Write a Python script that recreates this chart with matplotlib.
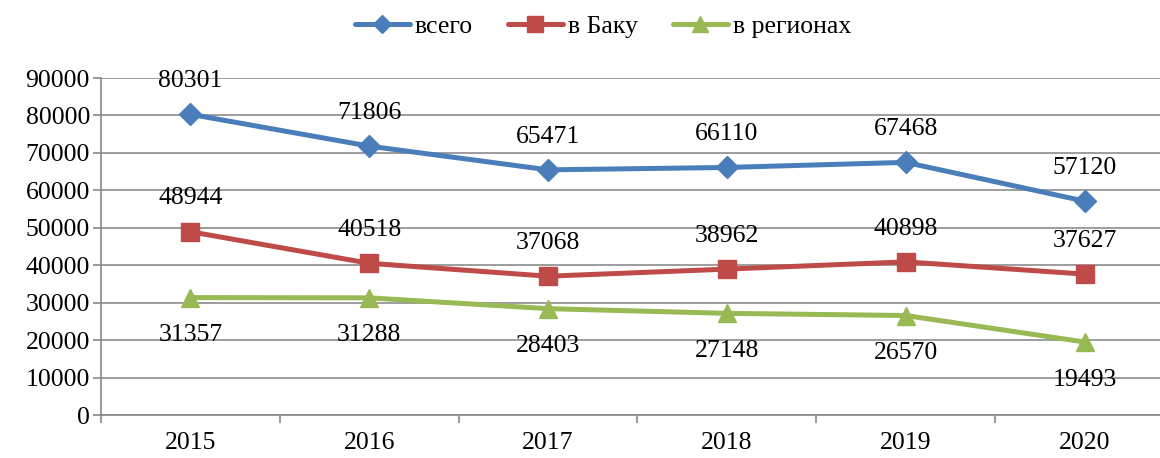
import matplotlib.pyplot as plt

plt.rcParams['font.family'] = ['Liberation Serif', 'DejaVu Serif']

years = ['2015', '2016', '2017', '2018', '2019', '2020']
total = [80301, 71806, 65471, 66110, 67468, 57120]
baku = [48944, 40518, 37068, 38962, 40898, 37627]
regions = [31357, 31288, 28403, 27148, 26570, 19493]

fs = 18.5
fig = plt.figure(figsize=(11.6, 4.58), dpi=100)
# plot area runs a little past the right edge of the figure
ax = fig.add_axes([101 / 1160, 43 / 458, 1073 / 1160, 337 / 458])

x = range(len(years))
series = [
    (total, 'всего', '#4A7EBB', 'D', 11, 24),
    (baku, 'в Баку', '#BE4B48', 's', 13, 24),
    (regions, 'в регионах', '#98B954', '^', 13, -27),
]
for vals, name, col, mk, ms, dy in series:
    ax.plot(x, vals, color=col, lw=3.6, marker=mk, markersize=ms,
            label=name, solid_capstyle='round')
    for i, v in enumerate(vals):
        ax.annotate(str(v), (i, v), xytext=(0, dy), textcoords='offset points',
                    ha='center', va='center', fontsize=fs)

ax.set_xlim(-0.5, len(years) - 0.5)
ax.set_ylim(0, 90000)
ax.set_yticks(range(0, 90001, 10000))
ax.set_xticks(list(x))
ax.set_xticklabels(years)
ax.set_xticks([i + 0.5 for i in range(-1, len(years))], minor=True)
ax.tick_params(axis='x', which='major', length=0, pad=12, labelsize=fs)
ax.tick_params(axis='x', which='minor', length=6, color='#888888', width=1.2)
ax.tick_params(axis='y', length=6, color='#888888', width=1.2, labelsize=fs, pad=2)
ax.grid(axis='y', color='#8c8c8c', lw=1.2)
ax.set_axisbelow(True)
for s in ['top', 'right']:
    ax.spines[s].set_visible(False)
for s in ['left', 'bottom']:
    ax.spines[s].set_color('#888888')
    ax.spines[s].set_linewidth(1.2)

fig.legend(loc='center', bbox_to_anchor=(603 / 1160, 1 - 27 / 458), ncol=3,
           frameon=False, fontsize=fs, handlelength=2.15, handletextpad=0.2,
           columnspacing=1.35, markerscale=0.85)

fig.savefig('out.png', dpi=100)
